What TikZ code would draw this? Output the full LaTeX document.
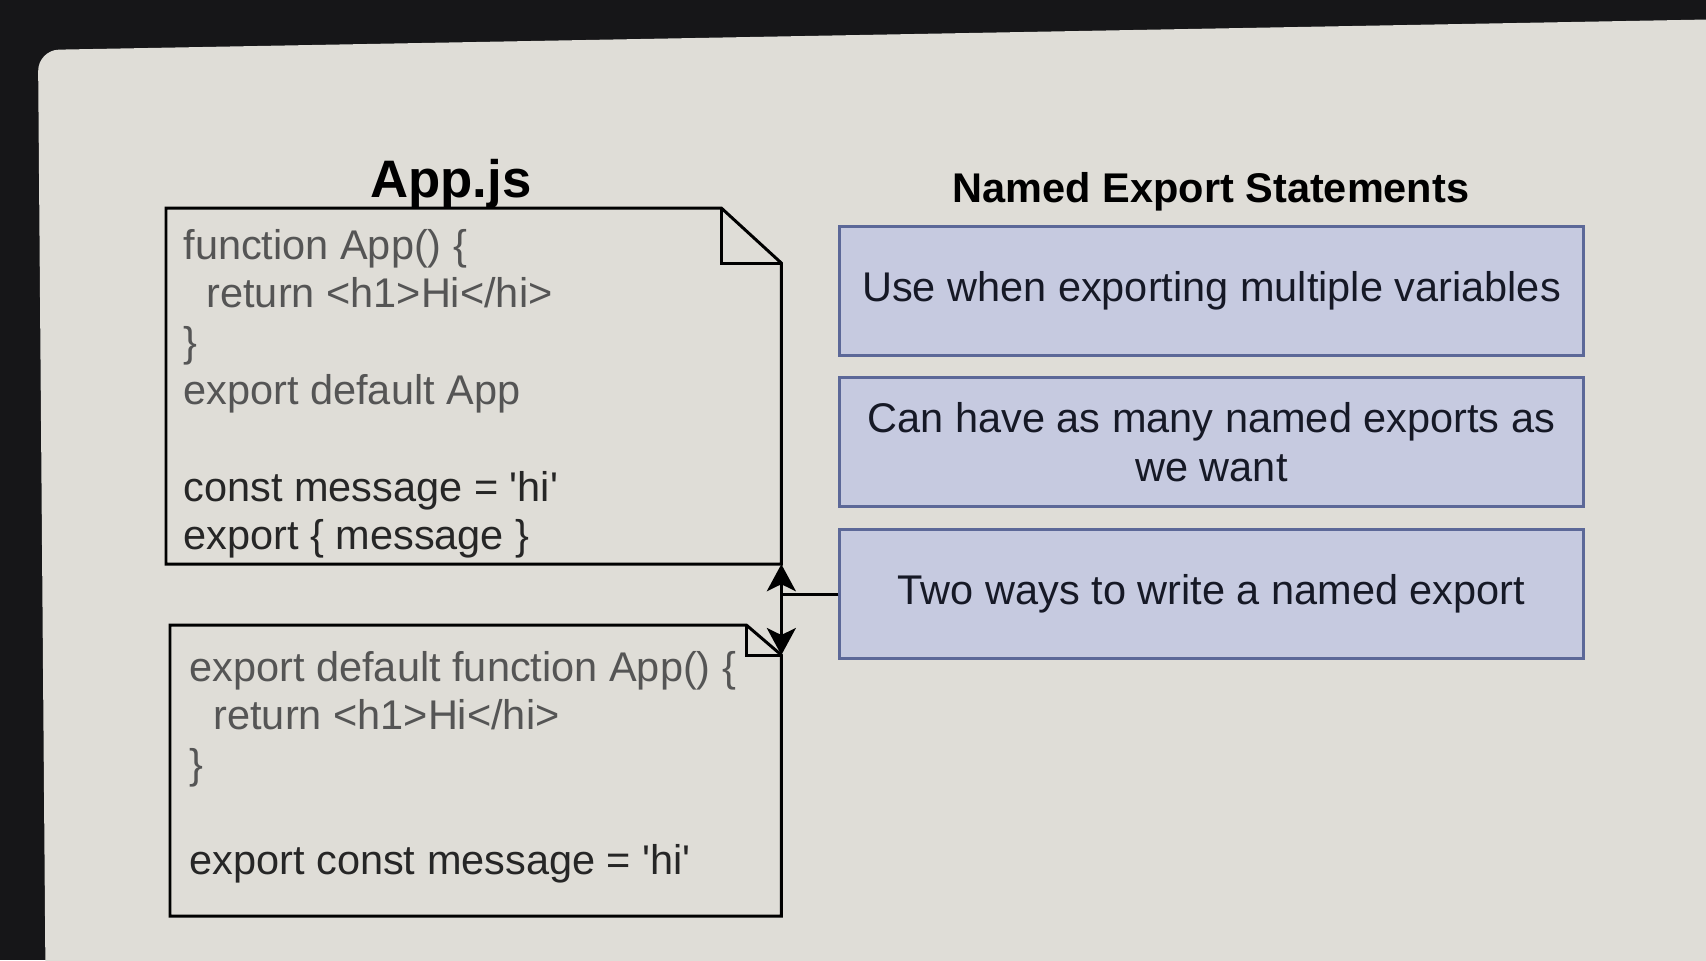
\documentclass[tikz,border=0pt]{standalone}
\usepackage{fontspec}
\setmainfont{Liberation Sans}[Ligatures=TeXOff]
\usetikzlibrary{arrows.meta}
\definecolor{frame}{RGB}{22,22,24}
\definecolor{screen}{RGB}{223,221,215}
\definecolor{notefill}{RGB}{198,202,224}
\definecolor{noteline}{RGB}{92,104,152}
\definecolor{notetext}{RGB}{22,25,38}
\definecolor{codegray}{RGB}{85,85,85}
\definecolor{codedark}{RGB}{38,38,38}

\begin{document}
\begin{tikzpicture}[x=0.01cm, y=-0.01cm, line width=0.85pt,
    font=\fontsize{11.8pt}{13.74pt}\selectfont,
    title/.style={anchor=base, font=\fontsize{11.8pt}{13.74pt}\selectfont\bfseries},
    code/.style={anchor=north west, align=left, inner sep=0pt, text=codegray},
    file/.style={anchor=north west, inner sep=0pt},
    note/.style={draw=noteline, fill=notefill, text=notetext, align=center,
      minimum width=7.43cm, minimum height=1.28cm, inner sep=0pt},
    link/.style={-{Stealth[length=0.27cm, width=0.29cm, inset=0.07cm]}}]
        \useasboundingbox (0,0) rectangle (1706,960);
        % screen
        \fill[frame] (0,0) rectangle (1706,960);
        \fill[screen, rounded corners=6pt] (46,1040) -- (38,50) -- (1790,18) -- (1790,1040) -- cycle;
        % upper file
        \node[file, minimum width=6.12cm, minimum height=3.53cm] (appfile) at (166,208) {};
        \draw (appfile.north west) -- ([xshift=-0.6cm]appfile.north east)
          -- ([yshift=-0.55cm]appfile.north east) -- (appfile.south east)
          -- (appfile.south west) -- cycle;
        \draw ([xshift=-0.6cm]appfile.north east) |- ([yshift=-0.55cm]appfile.north east);
        \node[title, font=\fontsize{15pt}{18pt}\selectfont\bfseries] (apptitle) at (451,197) {App.js};
        \node[code] (appcode) at (182,228) {function App() \{\\
          \hspace*{0.23cm}return <h1>Hi</hi>\\
          \}\\
          export default App\\[13.74pt]
          \textcolor{codedark}{const message = 'hi'}\\
          \textcolor{codedark}{export \{ message \}}};
        % lower file
        \node[file, minimum width=6.08cm, minimum height=2.88cm] (newfile) at (170,625) {};
        \draw (newfile.north west) -- ([xshift=-0.35cm]newfile.north east)
          -- ([yshift=-0.3cm]newfile.north east) -- (newfile.south east)
          -- (newfile.south west) -- cycle;
        \draw ([xshift=-0.35cm]newfile.north east) |- ([yshift=-0.3cm]newfile.north east);
        \coordinate (newfold) at ([yshift=-0.3cm]newfile.north east);
        \node[code] (newcode) at (188,650) {export default function App() \{\\
          \hspace*{0.24cm}return <h1>Hi</hi>\\
          \}\\[13.74pt]
          \textcolor{codedark}{export const message = 'hi'}};
        % notes
        \node[title] (heading) at (1211,202) {Named Export Statements};
        \node[note] (multi) at (1211.5,291) {Use when exporting multiple variables};
        \node[note] (many) at (1211.5,442) {Can have as many named exports as\\ we want};
        \node[note] (ways) at (1211.5,594) {Two ways to write a named export};
        % links
        \draw[link] (ways.west) -| (appfile.south east);
        \draw[link] (ways.west) -| (newfold);
      \end{tikzpicture}
\end{document}
